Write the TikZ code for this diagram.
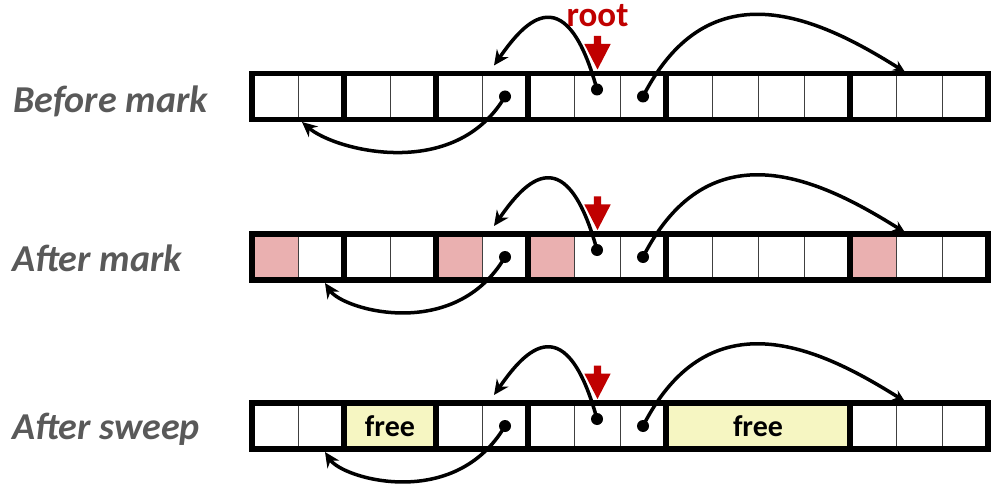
\documentclass[tikz,border=0pt]{standalone}
\usepackage{fontspec}
\setmainfont{Carlito}
\usetikzlibrary{arrows.meta}
\definecolor{markpink}{HTML}{EAB0B0}
\definecolor{freeyellow}{HTML}{F6F6C2}
\definecolor{rootred}{HTML}{C00000}
\definecolor{labelgray}{HTML}{595959}
\tikzset{
  rowlabel/.style={font=\fontsize{38}{42}\selectfont\bfseries\itshape, text=labelgray, anchor=base west, inner sep=0pt},
  rootlabel/.style={font=\fontsize{35}{38}\selectfont\bfseries, text=rootred, anchor=base, inner sep=0pt},
  freebox/.style={fill=freeyellow, anchor=north west, minimum height=46pt, inner sep=0pt, outer sep=0pt, font=\fontsize{30}{34}\selectfont\bfseries},
  cell/.style={rectangle, draw=black!75, line width=0.7pt, anchor=north west, minimum width=46pt, minimum height=46pt, inner sep=0pt, outer sep=0pt},
  dotnode/.style={circle, fill=black, inner sep=0pt, minimum size=12pt},
  ptr/.style={line width=3.5pt, -{Stealth[length=15pt,width=14pt]}},
  ptrs/.style={line width=3.5pt, -{Stealth[length=12pt,width=11pt]}},
  border/.style={line width=5.5pt, draw=black},
  rootarrow/.style={fill=rootred},
}
\begin{document}
\begin{tikzpicture}[x=1pt,y=-1pt]
\useasboundingbox (0,0) rectangle (1000,486);

\foreach \r/\T in {1/73.5,2/234,3/403}{
  \foreach \c in {1,...,16}{
    \node[cell] (r\r c\c) at ({252+46*(\c-1)},\T) {};
  }
}

% marked cells
\foreach \c in {1,5,7,14}{
  \fill[markpink] (r2c\c.north west) rectangle (r2c\c.south east);
}

% free blocks
\node[freebox, minimum width=92pt] (free1) at (r3c3.north west) {free};
\node[freebox, minimum width=184pt] (free2) at (r3c10.north west) {free};

% thick borders
\foreach \r in {1,2,3}{
  \draw[border] (r\r c1.north west) rectangle (r\r c16.south east);
  \foreach \c in {3,5,7,10,14}{
    \draw[border] (r\r c\c.north west) -- (r\r c\c.south west);
  }
}

% labels
\node[rowlabel] (lab1) at (13,112.3) {Before mark};
\node[rowlabel] (lab2) at (12,271.7) {After mark};
\node[rowlabel] (lab3) at (12,439) {After sweep};
\node[rootlabel] (root) at (597.5,26.5) {root};

% pointers
\foreach \r/\T/\bx/\by/\ca/\cb/\cc/\cd in {1/73.5/302/48.5/455/108/335/77, 2/234/325/49/455/108/343/76, 3/403/325/49/455/108/343/76}{
  \node[dotnode] (r\r p1) at (r\r c6.center) {};
  \node[dotnode] (r\r p2) at ([yshift=7pt]r\r c8.center) {};
  \node[dotnode] (r\r p3) at (r\r c9.center) {};
  \coordinate (r\r tA) at (494,{\T-8});
  \coordinate (r\r tB) at (\bx,{\T+\by});
  \coordinate (r\r tC) at (905,{\T-1.5});
  \draw[ptr] (r\r p2.center) .. controls (564,{\T-104}) and (520,{\T-45}) .. (r\r tA);
  \draw[ptr] (r\r p1.center) .. controls (\ca,{\T+\cb}) and (\cc,{\T+\cd}) .. (r\r tB);
  \draw[ptrs] (r\r p3.center) .. controls (710,{\T-108}) and (820,{\T-55}) .. (r\r tC);
  \fill[rootarrow] (593.8,{\T-37.5}) -- (601.2,{\T-37.5}) -- (601.2,{\T-29.5}) -- (610.7,{\T-29.5}) -- (597.5,{\T-4}) -- (584.3,{\T-29.5}) -- (593.8,{\T-29.5}) -- cycle;
}
\end{tikzpicture}
\end{document}
